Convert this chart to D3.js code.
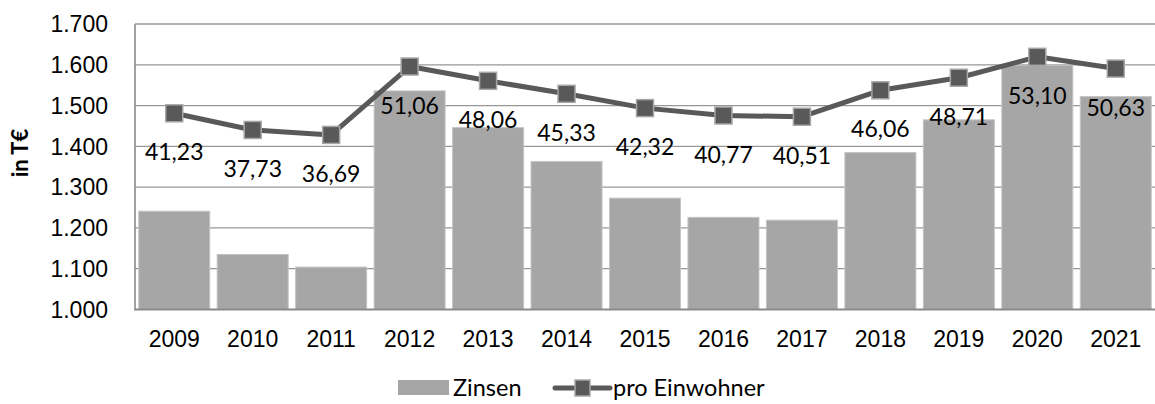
<!DOCTYPE html>
<html><head><meta charset="utf-8">
<script src="https://cdn.jsdelivr.net/npm/d3@7"></script>
<style>
html,body{margin:0;padding:0;background:#fff;}
svg{display:block;}
</style></head>
<body>
<svg id="chart" width="1155" height="404"></svg>
<script>
const years = ["2009","2010","2011","2012","2013","2014","2015","2016","2017","2018","2019","2020","2021"];
const zinsen = [1241,1135,1104,1536,1446,1363,1273,1226,1219,1385,1465,1599,1522];
const proEinwohner = [41.23,37.73,36.69,51.06,48.06,45.33,42.32,40.77,40.51,46.06,48.71,53.10,50.63];
const yTicks = [1000,1100,1200,1300,1400,1500,1600,1700];
const seriesNames = ["Zinsen","pro Einwohner"];
const axisTitle = "in T€";

const svg = d3.select("#chart");
const L = 135, R = 1155, T = 24, B = 309.5;

const x = d3.scaleBand().domain(years).range([L, R]).paddingInner(0.095).paddingOuter(0.0475);
const y = d3.scaleLinear().domain([1000,1700]).range([B, T]);
const y2 = d3.scaleLinear().domain([0,60]).range([B, T]);

const fmtTick = d => d3.format(",")(d).replace(/,/g, ".");
const fmtLabel = d => d.toFixed(2).replace(".", ",");

// gridlines
svg.append("g").selectAll("line").data(yTicks.slice(1)).join("line")
  .attr("x1", L).attr("x2", R).attr("y1", d => y(d)).attr("y2", d => y(d))
  .attr("stroke", "#979797").attr("stroke-width", 1.3);

// bars
svg.append("g").selectAll("rect").data(zinsen).join("rect")
  .attr("x", (d,i) => x(years[i]))
  .attr("width", x.bandwidth())
  .attr("y", d => y(d))
  .attr("height", d => B - y(d))
  .attr("fill", "#a6a6a6")
  .attr("stroke", "#c4c4c4").attr("stroke-width", 1);

// axes lines
svg.append("line").attr("x1", L).attr("x2", L).attr("y1", T).attr("y2", B+1)
  .attr("stroke", "#8a8a8a").attr("stroke-width", 1.6);
svg.append("line").attr("x1", L).attr("x2", R).attr("y1", B).attr("y2", B)
  .attr("stroke", "#8a8a8a").attr("stroke-width", 2);

// y tick labels
svg.append("g").selectAll("text").data(yTicks).join("text")
  .attr("x", 108).attr("y", d => y(d)).attr("dy", "0.36em")
  .attr("text-anchor", "end")
  .attr("font-family", "Liberation Sans, Arial, sans-serif").attr("font-size", 23)
  .attr("fill", "#000").text(fmtTick);

// x labels
svg.append("g").selectAll("text").data(years).join("text")
  .attr("x", d => x(d) + x.bandwidth()/2).attr("y", 347)
  .attr("text-anchor", "middle")
  .attr("font-family", "Liberation Sans, Arial, sans-serif").attr("font-size", 23)
  .attr("fill", "#000").text(d => d);

// axis title
svg.append("text")
  .attr("transform", "translate(28,153) rotate(-90)")
  .attr("text-anchor", "middle")
  .attr("font-family", "Lato, sans-serif").attr("font-weight", "bold").attr("font-size", 22)
  .attr("fill", "#000").text(axisTitle);

// line
const cx = i => x(years[i]) + x.bandwidth()/2;
const line = d3.line().x((d,i) => cx(i)).y(d => y2(d));
svg.append("path").datum(proEinwohner).attr("d", line)
  .attr("fill", "none").attr("stroke", "#595959").attr("stroke-width", 5).attr("stroke-linejoin", "round");

const ms = 17;
svg.append("g").selectAll("rect").data(proEinwohner).join("rect")
  .attr("x", (d,i) => cx(i) - ms/2).attr("y", d => y2(d) - ms/2)
  .attr("width", ms).attr("height", ms)
  .attr("fill", "#595959").attr("stroke", "#a6a6a6").attr("stroke-width", 1.5);

// data labels
svg.append("g").selectAll("text").data(proEinwohner).join("text")
  .attr("x", (d,i) => cx(i)).attr("y", d => y2(d) + 39).attr("dy", "0.35em")
  .attr("text-anchor", "middle")
  .attr("font-family", "Lato, sans-serif").attr("font-size", 23)
  .attr("fill", "#000").text(fmtLabel);

// legend
const lg = svg.append("g");
lg.append("rect").attr("x", 398).attr("y", 380).attr("width", 51).attr("height", 15).attr("fill", "#a6a6a6");
lg.append("text").attr("x", 453).attr("y", 388).attr("dy", "0.35em")
  .attr("font-family", "Lato, sans-serif").attr("font-size", 23.5).attr("fill", "#000").text(seriesNames[0]);
lg.append("line").attr("x1", 555).attr("x2", 610).attr("y1", 388).attr("y2", 388)
  .attr("stroke", "#595959").attr("stroke-width", 5).attr("stroke-linecap", "round");
lg.append("rect").attr("x", 575).attr("y", 380).attr("width", 15).attr("height", 16)
  .attr("fill", "#595959").attr("stroke", "#a6a6a6").attr("stroke-width", 1.5);
lg.append("text").attr("x", 613).attr("y", 388).attr("dy", "0.35em")
  .attr("font-family", "Lato, sans-serif").attr("font-size", 23.5).attr("fill", "#000").text(seriesNames[1]);
</script>
</body></html>
